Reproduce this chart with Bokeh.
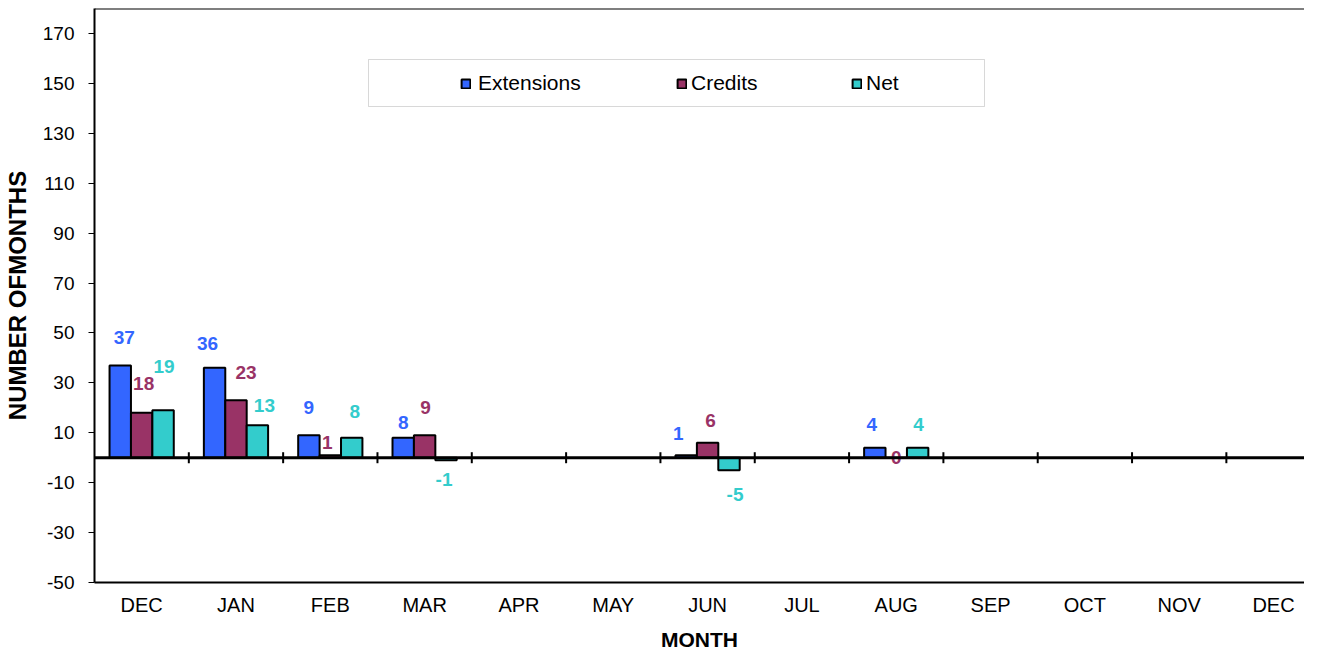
import math
from bokeh.plotting import figure
from bokeh.models import (ColumnDataSource, Range1d, FixedTicker, Span,
                          BoxAnnotation, Legend, LegendItem)
from bokeh.core.properties import value
from bokeh.embed import file_html
from bokeh.resources import INLINE

# ---------------- data ----------------
months = ["DEC", "JAN", "FEB", "MAR", "APR", "MAY", "JUN",
          "JUL", "AUG", "SEP", "OCT", "NOV", "DEC"]
extensions = [37, 36, 9, 8, None, None, 1, None, 4, None, None, None, None]
credits = [18, 23, 1, 9, None, None, 6, None, 0, None, None, None, None]
net = [19, 13, 8, -1, None, None, -5, None, 4, None, None, None, None]
y_ticks = [-50, -30, -10, 10, 30, 50, 70, 90, 110, 130, 150, 170]
series_names = ["Extensions", "Credits", "Net"]
x_title = "MONTH"
y_title = "NUMBER OFMONTHS"

# ---------------- style / layout ----------------
colors = ["#3366FF", "#993366", "#33CCCC"]
FONT = "Liberation Sans"
bar_w = 0.227
offsets = [-bar_w, 0.0, bar_w]
# label placement: pixels above (positive) / below (negative) the bar end,
# plus per-label nudges (dx, dy) in pixels
default_up, default_down = -27, 21
nudges = {
    "Extensions": {0: (4, -1), 1: (-7, 3), 2: (0, -1), 3: (0, 12), 6: (-8, 5), 8: (-3, 4)},
    "Credits": {0: (2, -2), 1: (10, -1), 2: (-3, 14), 3: (1, -1), 6: (3, 5), 8: (0, 27)},
    "Net": {0: (1, -17), 1: (7, 7), 2: (3, 1), 3: (-2, -2), 6: (6, 3), 8: (1, 4)},
}
PX_PER_CAT = 94.4
FRAME_LEFT = 93
CANVAS_W, CANVAS_H = 1304, 655

p = figure(width=CANVAS_W, height=CANVAS_H, output_backend="svg", toolbar_location=None,
           x_range=Range1d(-0.5, -0.5 + (CANVAS_W - FRAME_LEFT) / PX_PER_CAT),
           y_range=Range1d(-50, 180),
           min_border_left=FRAME_LEFT, min_border_right=0, min_border_top=8,
           min_border_bottom=73, outline_line_color=None,
           background_fill_color="white", border_fill_color="white")
p.xgrid.visible = False
p.ygrid.visible = False

renderers = []
for name, vals, off, col in zip(series_names, [extensions, credits, net], offsets, colors):
    xs, tops, txt, dxs, dys = [], [], [], [], []
    for i, v in enumerate(vals):
        if v is None:
            continue
        xs.append(i + off)
        tops.append(v)
        ndx, ndy = nudges[name].get(i, (0, 0))
        base = default_up if v >= 0 else default_down
        dxs.append(ndx)
        dys.append(base + ndy)
        txt.append(str(v))
    src = ColumnDataSource(dict(x=xs, top=tops, txt=txt, dx=dxs, dy=dys))
    r = p.vbar(x="x", top="top", bottom=0, width=bar_w, source=src,
               fill_color=col, line_color="black", line_width=2)
    renderers.append(r)
    p.text(x="x", y="top", text="txt", x_offset="dx", y_offset="dy", source=src,
           text_align="center", text_baseline="middle", text_color=col,
           text_font=value(FONT), text_font_style="bold", text_font_size="19px")

# zero line and boundary ticks
p.add_layout(Span(location=0, dimension="width", line_color="black", line_width=3))
bounds = [i + 0.5 for i in range(len(months) - 1)]
p.scatter(x=bounds, y=[0] * len(bounds), marker="dash", size=11, angle=math.pi / 2,
          line_color="black", line_width=2)
# top border
p.add_layout(Span(location=180, dimension="width", line_color="black", line_width=2))

# axes
xa = p.xaxis[0]
xa.ticker = FixedTicker(ticks=list(range(len(months))))
xa.major_label_overrides = {i: m for i, m in enumerate(months)}
xa.major_tick_line_color = None
xa.major_tick_out = 0
xa.major_tick_in = 0
xa.minor_tick_line_color = None
xa.axis_line_color = "black"
xa.axis_line_width = 2
xa.major_label_standoff = 11
xa.major_label_text_font = FONT
xa.major_label_text_font_size = "20px"
xa.major_label_text_color = "black"
xa.axis_label = x_title
xa.axis_label_standoff = 9
xa.axis_label_text_font = FONT
xa.axis_label_text_font_style = "bold"
xa.axis_label_text_font_size = "21px"
xa.axis_label_text_color = "black"

ya = p.yaxis[0]
ya.ticker = FixedTicker(ticks=y_ticks)
ya.major_label_overrides = {t: str(t) for t in y_ticks}
ya.minor_tick_line_color = None
ya.major_tick_in = 0
ya.major_tick_out = 6
ya.major_tick_line_color = "black"
ya.axis_line_color = "black"
ya.axis_line_width = 2
ya.major_label_standoff = 14
ya.major_label_text_font = FONT
ya.major_label_text_font_size = "19px"
ya.major_label_text_color = "black"
ya.axis_label = y_title
ya.axis_label_standoff = 9
ya.axis_label_text_font = FONT
ya.axis_label_text_font_style = "bold"
ya.axis_label_text_font_size = "24px"
ya.axis_label_text_color = "black"

# legend box and entries
p.add_layout(BoxAnnotation(left=274, right=890, bottom=476, top=523,
                           left_units="screen", right_units="screen",
                           bottom_units="screen", top_units="screen",
                           fill_color="white", fill_alpha=1,
                           line_color="#7f7f7f", line_width=1))
for name, r, left, so in zip(series_names, renderers, [366, 582, 757], [7, 4, 4]):
    lg = Legend(items=[LegendItem(label=name, renderers=[r])],
                location=(left, 487), orientation="horizontal",
                padding=0, margin=0, spacing=0,
                border_line_color=None, background_fill_alpha=0,
                glyph_width=11, glyph_height=11, label_standoff=so,
                label_text_font=FONT, label_text_font_size="21px",
                label_text_color="black")
    p.add_layout(lg)

open("out.html", "w").write(file_html(p, INLINE))
